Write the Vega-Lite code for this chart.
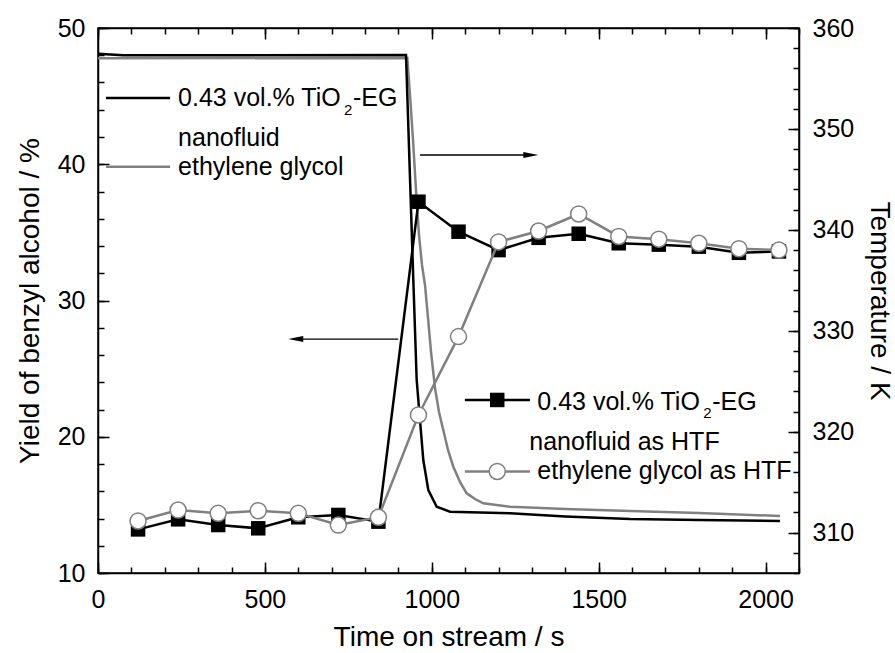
{
  "$schema": "https://vega.github.io/schema/vega-lite/v6.json",
  "width": 701,
  "height": 545,
  "autosize": {"type": "none"},
  "padding": {"left": 98, "top": 28, "right": 96, "bottom": 80},
  "background": "white",
  "config": {
    "font": "Liberation Sans",
    "view": {"stroke": "black", "strokeWidth": 1.5},
    "axis": {
      "domainColor": "black", "domainWidth": 1.5,
      "tickColor": "black", "tickWidth": 1.5,
      "labelColor": "black", "titleColor": "black",
      "labelFontSize": 25, "titleFontSize": 28, "titleFontWeight": "normal",
      "labelFont": "Liberation Sans", "titleFont": "Liberation Sans",
      "grid": false, "labelOverlap": false, "labelFlush": false, "labelBound": false
    },
    "text": {"font": "Liberation Sans", "fontSize": 25, "color": "black"}
  },
  "datasets": {
    "tempNano": [
      {"t": 0, "T": 357.45}, {"t": 75, "T": 357.3}, {"t": 922.7, "T": 357.32},
      {"t": 944.6, "T": 335.03}, {"t": 954.7, "T": 325.12}, {"t": 964.6, "T": 321.16},
      {"t": 974.5, "T": 317.19}, {"t": 989.5, "T": 314.22}, {"t": 1014.7, "T": 312.57},
      {"t": 1054.5, "T": 312.07}, {"t": 1234.3, "T": 311.91}, {"t": 1400, "T": 311.6},
      {"t": 1593.7, "T": 311.35}, {"t": 1800, "T": 311.25}, {"t": 2043, "T": 311.15}
    ],
    "tempEG": [
      {"t": 0, "T": 357.0}, {"t": 926.6, "T": 357.03}, {"t": 934.7, "T": 353.36},
      {"t": 943.7, "T": 348.9}, {"t": 952.6, "T": 343.94}, {"t": 961.6, "T": 339.49},
      {"t": 970.6, "T": 336.52}, {"t": 979.6, "T": 334.54}, {"t": 988.6, "T": 331.27},
      {"t": 997.6, "T": 327.9}, {"t": 1009.6, "T": 324.33}, {"t": 1021.5, "T": 321.95},
      {"t": 1034.4, "T": 320.17}, {"t": 1048.5, "T": 318.19}, {"t": 1064.4, "T": 316.53},
      {"t": 1084.5, "T": 315.02}, {"t": 1104.5, "T": 313.9}, {"t": 1129.4, "T": 313.33},
      {"t": 1154.3, "T": 312.91}, {"t": 1234.3, "T": 312.57}, {"t": 1400, "T": 312.35},
      {"t": 1593.7, "T": 312.14}, {"t": 1800, "T": 311.95}, {"t": 2043, "T": 311.65}
    ],
    "yieldNano": [
      {"t": 120, "y": 13.2}, {"t": 240, "y": 13.94}, {"t": 360, "y": 13.52},
      {"t": 480, "y": 13.28}, {"t": 600, "y": 14.09}, {"t": 720, "y": 14.26},
      {"t": 840, "y": 13.77}, {"t": 960, "y": 37.25}, {"t": 1080, "y": 35.05},
      {"t": 1200, "y": 33.7}, {"t": 1320, "y": 34.6}, {"t": 1440, "y": 34.9},
      {"t": 1560, "y": 34.2}, {"t": 1680, "y": 34.1}, {"t": 1800, "y": 33.95},
      {"t": 1920, "y": 33.5}, {"t": 2040, "y": 33.6}
    ],
    "yieldEG": [
      {"t": 120, "y": 13.82}, {"t": 240, "y": 14.62}, {"t": 360, "y": 14.38},
      {"t": 480, "y": 14.57}, {"t": 600, "y": 14.38}, {"t": 720, "y": 13.52},
      {"t": 840, "y": 14.09}, {"t": 960, "y": 21.6}, {"t": 1080, "y": 27.35},
      {"t": 1200, "y": 34.3}, {"t": 1320, "y": 35.1}, {"t": 1440, "y": 36.35},
      {"t": 1560, "y": 34.7}, {"t": 1680, "y": 34.5}, {"t": 1800, "y": 34.2},
      {"t": 1920, "y": 33.8}, {"t": 2040, "y": 33.7}
    ],
    "one": [{}]
  },
  "layer": [
    {
      "data": {"name": "one"},
      "mark": {"type": "point", "opacity": 0},
      "encoding": {
        "x": {"datum": 0, "type": "quantitative",
          "scale": {"domain": [0, 2100], "nice": false, "zero": false},
          "axis": {"orient": "bottom", "title": null, "labels": false, "domain": false,
            "values": [0,100,200,300,400,500,600,700,800,900,1000,1100,1200,1300,1400,1500,1600,1700,1800,1900,2000,2100],
            "tickSize": -6}},
        "y": {"datum": 10, "type": "quantitative",
          "scale": {"domain": [10, 50], "nice": false, "zero": false},
          "axis": {"orient": "left", "title": null, "labels": false, "domain": false,
            "values": [10,12,14,16,18,20,22,24,26,28,30,32,34,36,38,40,42,44,46,48,50],
            "tickSize": -6}}
      }
    },
    {
      "data": {"name": "one"},
      "mark": {"type": "point", "opacity": 0},
      "encoding": {
        "x": {"datum": 0, "type": "quantitative",
          "scale": {"domain": [0, 2100], "nice": false, "zero": false},
          "axis": {"orient": "top", "title": null, "labels": false, "domain": false,
            "values": [0,100,200,300,400,500,600,700,800,900,1000,1100,1200,1300,1400,1500,1600,1700,1800,1900,2000,2100],
            "tickSize": -6}},
        "y": {"datum": 310, "type": "quantitative",
          "scale": {"domain": [306, 360], "nice": false, "zero": false},
          "axis": {"orient": "right", "title": null, "labels": false, "domain": false,
            "values": [306,308,310,312,314,316,318,320,322,324,326,328,330,332,334,336,338,340,342,344,346,348,350,352,354,356,358,360],
            "tickSize": -6}}
      }
    },
    {
      "data": {"name": "tempEG"},
      "mark": {"type": "line", "color": "#808080", "strokeWidth": 2.5},
      "encoding": {
        "x": {"field": "t", "type": "quantitative",
          "scale": {"domain": [0, 2100], "nice": false, "zero": false},
          "axis": {"orient": "top", "title": null, "labels": false,
            "values": [0, 500, 1000, 1500, 2000], "tickSize": -11}},
        "y": {"field": "T", "type": "quantitative",
          "scale": {"domain": [306, 360], "nice": false, "zero": false},
          "axis": {"orient": "right", "title": "Temperature / K",
            "values": [310, 320, 330, 340, 350, 360], "tickSize": -11, "format": "d",
            "labelPadding": 24, "titlePadding": 11}}
      }
    },
    {
      "data": {"name": "tempNano"},
      "mark": {"type": "line", "color": "black", "strokeWidth": 2.5},
      "encoding": {
        "x": {"field": "t", "type": "quantitative",
          "scale": {"domain": [0, 2100], "nice": false, "zero": false}, "axis": null},
        "y": {"field": "T", "type": "quantitative",
          "scale": {"domain": [306, 360], "nice": false, "zero": false}, "axis": null}
      }
    },
    {
      "data": {"name": "yieldNano"},
      "mark": {"type": "line", "color": "black", "strokeWidth": 2.5},
      "encoding": {
        "x": {"field": "t", "type": "quantitative",
          "scale": {"domain": [0, 2100], "nice": false, "zero": false},
          "axis": {"orient": "bottom", "title": "Time on stream / s",
            "values": [0, 500, 1000, 1500, 2000], "tickSize": -11, "format": "d",
            "labelPadding": 25, "titlePadding": 11}},
        "y": {"field": "y", "type": "quantitative",
          "scale": {"domain": [10, 50], "nice": false, "zero": false},
          "axis": {"orient": "left", "title": "Yield of benzyl alcohol / %",
            "values": [10, 20, 30, 40, 50], "tickSize": -11, "format": "d",
            "labelPadding": 24, "titlePadding": 13}}
      }
    },
    {
      "layer": [
        {
          "data": {"name": "yieldNano"},
          "mark": {"type": "point", "shape": "square", "filled": true, "color": "black", "size": 210, "opacity": 1},
          "encoding": {
            "x": {"field": "t", "type": "quantitative",
              "scale": {"domain": [0, 2100], "nice": false, "zero": false}, "axis": null},
            "y": {"field": "y", "type": "quantitative",
              "scale": {"domain": [10, 50], "nice": false, "zero": false}, "axis": null}
          }
        },
        {
          "data": {"name": "yieldEG"},
          "mark": {"type": "line", "color": "#808080", "strokeWidth": 2.5},
          "encoding": {
            "x": {"field": "t", "type": "quantitative", "axis": null},
            "y": {"field": "y", "type": "quantitative", "axis": null}
          }
        },
        {
          "data": {"name": "yieldEG"},
          "mark": {"type": "point", "shape": "circle", "filled": true, "fill": "white", "stroke": "#808080", "strokeWidth": 1.5, "size": 256, "opacity": 1},
          "encoding": {
            "x": {"field": "t", "type": "quantitative", "axis": null},
            "y": {"field": "y", "type": "quantitative", "axis": null}
          }
        },
        {
          "data": {"name": "one"},
          "mark": {"type": "rule", "color": "black", "strokeWidth": 2.5},
          "encoding": {"x": {"datum": 24, "type": "quantitative", "axis": null}, "x2": {"datum": 216}, "y": {"datum": 44.86, "type": "quantitative", "axis": null}}
        },
        {
          "data": {"name": "one"},
          "mark": {"type": "rule", "color": "#808080", "strokeWidth": 2.5},
          "encoding": {"x": {"datum": 24, "type": "quantitative", "axis": null}, "x2": {"datum": 216}, "y": {"datum": 39.82, "type": "quantitative", "axis": null}}
        },
        {
          "data": {"name": "one"},
          "mark": {"type": "text", "text": "0.43 vol.% TiO", "align": "left", "baseline": "alphabetic", "fontSize": 25},
          "encoding": {"x": {"datum": 240, "type": "quantitative", "axis": null}, "y": {"datum": 44.28, "type": "quantitative", "axis": null}}
        },
        {
          "data": {"name": "one"},
          "mark": {"type": "text", "text": "2", "align": "left", "baseline": "alphabetic", "fontSize": 15},
          "encoding": {"x": {"datum": 737, "type": "quantitative", "axis": null}, "y": {"datum": 43.62, "type": "quantitative", "axis": null}}
        },
        {
          "data": {"name": "one"},
          "mark": {"type": "text", "text": "-EG", "align": "left", "baseline": "alphabetic", "fontSize": 25},
          "encoding": {"x": {"datum": 764, "type": "quantitative", "axis": null}, "y": {"datum": 44.28, "type": "quantitative", "axis": null}}
        },
        {
          "data": {"name": "one"},
          "mark": {"type": "text", "text": "nanofluid", "align": "left", "baseline": "alphabetic", "fontSize": 25},
          "encoding": {"x": {"datum": 240, "type": "quantitative", "axis": null}, "y": {"datum": 41.34, "type": "quantitative", "axis": null}}
        },
        {
          "data": {"name": "one"},
          "mark": {"type": "text", "text": "ethylene glycol", "align": "left", "baseline": "alphabetic", "fontSize": 25},
          "encoding": {"x": {"datum": 240, "type": "quantitative", "axis": null}, "y": {"datum": 39.21, "type": "quantitative", "axis": null}}
        },
        {
          "data": {"name": "one"},
          "mark": {"type": "rule", "color": "black", "strokeWidth": 2.5},
          "encoding": {"x": {"datum": 1099, "type": "quantitative", "axis": null}, "x2": {"datum": 1294}, "y": {"datum": 22.7, "type": "quantitative", "axis": null}}
        },
        {
          "data": {"name": "one"},
          "mark": {"type": "point", "shape": "square", "filled": true, "color": "black", "size": 210, "opacity": 1},
          "encoding": {"x": {"datum": 1196, "type": "quantitative", "axis": null}, "y": {"datum": 22.7, "type": "quantitative", "axis": null}}
        },
        {
          "data": {"name": "one"},
          "mark": {"type": "rule", "color": "#808080", "strokeWidth": 2.5},
          "encoding": {"x": {"datum": 1099, "type": "quantitative", "axis": null}, "x2": {"datum": 1294}, "y": {"datum": 17.45, "type": "quantitative", "axis": null}}
        },
        {
          "data": {"name": "one"},
          "mark": {"type": "point", "shape": "circle", "filled": true, "fill": "white", "stroke": "#808080", "strokeWidth": 1.5, "size": 256, "opacity": 1},
          "encoding": {"x": {"datum": 1196, "type": "quantitative", "axis": null}, "y": {"datum": 17.45, "type": "quantitative", "axis": null}}
        },
        {
          "data": {"name": "one"},
          "mark": {"type": "text", "text": "0.43 vol.% TiO", "align": "left", "baseline": "alphabetic", "fontSize": 25},
          "encoding": {"x": {"datum": 1316, "type": "quantitative", "axis": null}, "y": {"datum": 21.96, "type": "quantitative", "axis": null}}
        },
        {
          "data": {"name": "one"},
          "mark": {"type": "text", "text": "2", "align": "left", "baseline": "alphabetic", "fontSize": 15},
          "encoding": {"x": {"datum": 1813, "type": "quantitative", "axis": null}, "y": {"datum": 21.35, "type": "quantitative", "axis": null}}
        },
        {
          "data": {"name": "one"},
          "mark": {"type": "text", "text": "-EG", "align": "left", "baseline": "alphabetic", "fontSize": 25},
          "encoding": {"x": {"datum": 1840, "type": "quantitative", "axis": null}, "y": {"datum": 21.96, "type": "quantitative", "axis": null}}
        },
        {
          "data": {"name": "one"},
          "mark": {"type": "text", "text": "nanofluid as HTF", "align": "left", "baseline": "alphabetic", "fontSize": 25},
          "encoding": {"x": {"datum": 1292, "type": "quantitative", "axis": null}, "y": {"datum": 19.03, "type": "quantitative", "axis": null}}
        },
        {
          "data": {"name": "one"},
          "mark": {"type": "text", "text": "ethylene glycol as HTF", "align": "left", "baseline": "alphabetic", "fontSize": 25},
          "encoding": {"x": {"datum": 1316, "type": "quantitative", "axis": null}, "y": {"datum": 16.88, "type": "quantitative", "axis": null}}
        },
        {
          "data": {"name": "one"},
          "mark": {"type": "rule", "color": "black", "strokeWidth": 1.3},
          "encoding": {"x": {"datum": 964.6, "type": "quantitative", "axis": null}, "x2": {"datum": 1300}, "y": {"datum": 40.68, "type": "quantitative", "axis": null}}
        },
        {
          "data": {"name": "one"},
          "mark": {"type": "point", "shape": "M0,0L-2,-0.4L-2,0.4Z", "filled": true, "color": "black", "size": 225, "opacity": 1},
          "encoding": {"x": {"datum": 1319, "type": "quantitative", "axis": null}, "y": {"datum": 40.68, "type": "quantitative", "axis": null}}
        },
        {
          "data": {"name": "one"},
          "mark": {"type": "rule", "color": "black", "strokeWidth": 1.3},
          "encoding": {"x": {"datum": 590, "type": "quantitative", "axis": null}, "x2": {"datum": 899.6}, "y": {"datum": 27.17, "type": "quantitative", "axis": null}}
        },
        {
          "data": {"name": "one"},
          "mark": {"type": "point", "shape": "M0,0L2,-0.4L2,0.4Z", "filled": true, "color": "black", "size": 225, "opacity": 1},
          "encoding": {"x": {"datum": 570, "type": "quantitative", "axis": null}, "y": {"datum": 27.17, "type": "quantitative", "axis": null}}
        }
      ]
    }
  ],
  "resolve": {"scale": {"x": "independent", "y": "independent"}}
}
